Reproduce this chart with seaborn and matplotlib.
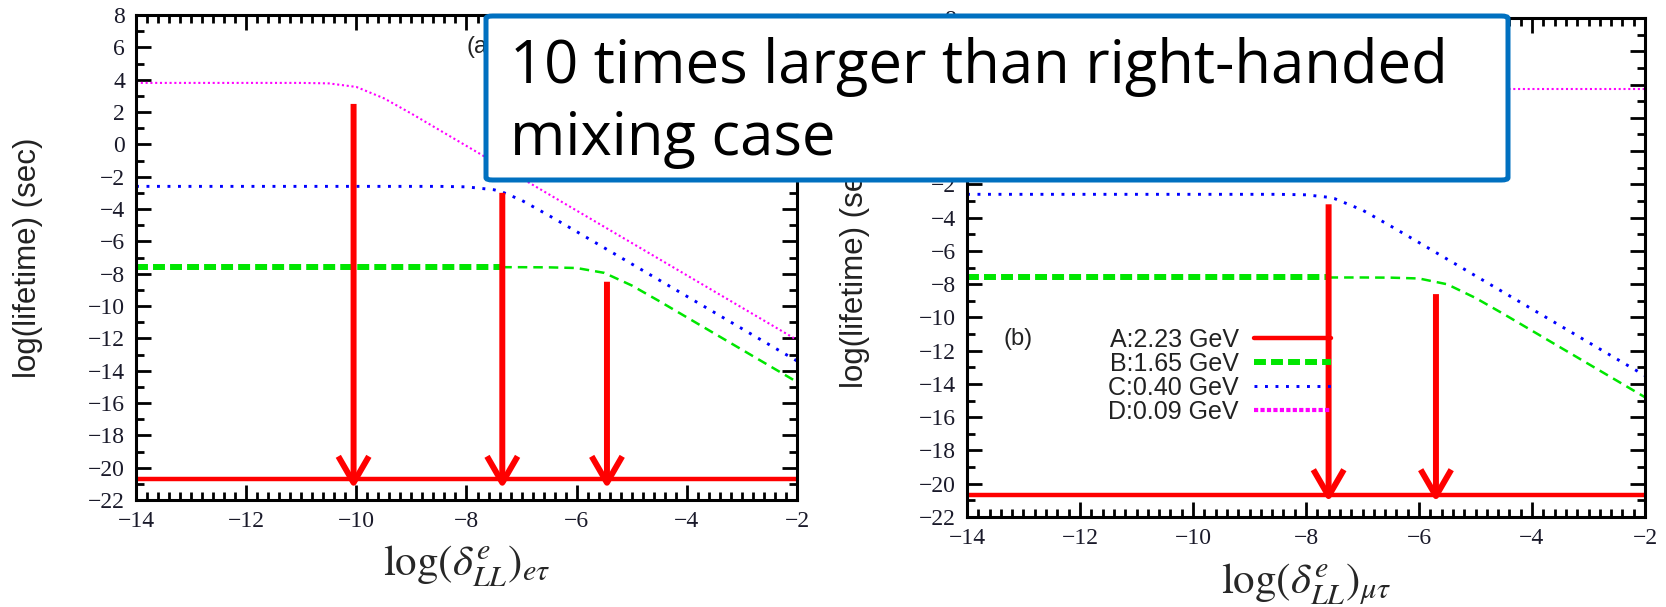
import numpy as np
import matplotlib
matplotlib.use("Agg")
import matplotlib.pyplot as plt
from matplotlib.ticker import MultipleLocator
from matplotlib.lines import Line2D
from matplotlib.patches import FancyBboxPatch
import seaborn as sns

# ---------------- data ----------------
# panel (a): log(delta_LL)_{e tau}
x_a = [-14, -13, -12, -11, -10.5, -10, -9.5, -9, -8.5, -8, -7.5, -7.35, -7,
       -6.5, -6, -5.5, -5, -4.5, -4, -3.5, -3, -2.5, -2]
A_a = [-20.7] * len(x_a)
B_a = [-7.60, -7.60, -7.60, -7.60, -7.60, -7.60, -7.60, -7.60, -7.60, -7.60, -7.60, -7.60, -7.60,
       -7.61, -7.65, -7.95, -8.73, -9.70, -10.70, -11.70, -12.70, -13.70, -14.70]
C_a = [-2.60, -2.60, -2.60, -2.60, -2.60, -2.60, -2.60, -2.60, -2.60, -2.63, -2.81, -2.95, -3.46,
       -4.41, -5.40, -6.40, -7.40, -8.40, -9.40, -10.40, -11.40, -12.40, -13.40]
D_a = [3.80, 3.80, 3.80, 3.80, 3.77, 3.55, 2.85, 1.90, 0.90, -0.10, -1.10, -1.40, -2.10,
       -3.10, -4.10, -5.10, -6.10, -7.10, -8.10, -9.10, -10.10, -11.10, -12.10]
arrows_x_a = [-10.05, -7.35, -5.45]
arrows_top_a = [2.5, -3.0, -8.5]
arrow_tip_a = -21.3

# panel (b): log(delta_LL)_{mu tau}
x_b = [-14, -13, -12, -11, -10, -9, -8.5, -8, -7.6, -7.5, -7, -6.5, -6, -5.5, -5,
       -4.5, -4, -3.5, -3, -2.5, -2]
A_b = [-20.7] * len(x_b)
B_b = [-7.60, -7.60, -7.60, -7.60, -7.60, -7.60, -7.60, -7.60, -7.60, -7.60, -7.60, -7.61, -7.66,
       -8.01, -8.83, -9.80, -10.80, -11.80, -12.80, -13.80, -14.80]
C_b = [-2.60, -2.60, -2.60, -2.60, -2.60, -2.60, -2.60, -2.63, -2.78, -2.85, -3.55, -4.51, -5.50,
       -6.50, -7.50, -8.50, -9.50, -10.50, -11.50, -12.50, -13.50]
D_b = [3.75] * len(x_b)
arrows_x_b = [-7.6, -5.7]
arrows_top_b = [-3.2, -8.6]
arrow_tip_b = -21.1

series_labels = ["A:2.23 GeV", "B:1.65 GeV", "C:0.40 GeV", "D:0.09 GeV"]
x_ticks = [-14, -12, -10, -8, -6, -4, -2]
y_ticks = list(range(-22, 9, 2))
xlabels = [r"$\log(\delta^{e}_{LL})_{e\tau}$", r"$\log(\delta^{e}_{LL})_{\mu\tau}$"]
ylabel = "log(lifetime) (sec)"
note_lines = ["10 times larger than right-handed", "mixing case"]

# ---------------- style ----------------
RED, GREEN, BLUE, MAGENTA = "#ff0000", "#00e600", "#0000ff", "#ff00ff"
BOX_BLUE = "#0070c0"
SANS = ["Liberation Sans", "DejaVu Sans"]
SERIF = ["Liberation Serif", "DejaVu Serif"]
TICK_FS = 17

sns.set_theme(style="ticks")
plt.rcParams["font.family"] = SERIF
plt.rcParams["mathtext.fontset"] = "stix"
plt.rcParams["axes.linewidth"] = 2.2
plt.rcParams["xtick.labelsize"] = TICK_FS
plt.rcParams["ytick.labelsize"] = TICK_FS

fig = plt.figure(figsize=(16.66, 6.07), dpi=100)
W, H = 1666, 607
ax_a = fig.add_axes([136 / W, (H - 500) / H, 661 / W, 485 / H])
ax_b = fig.add_axes([967 / W, (H - 517) / H, 678 / W, 499 / H])

sty_B_thick = dict(color=GREEN, lw=4.3, linestyle=(0, (2.0, 0.85)), dash_capstyle="butt")
sty_B_thin = dict(color=GREEN, lw=1.8, linestyle=(0, (3.8, 2.4)), dash_capstyle="butt")
sty_C = dict(color=BLUE, lw=2.1, linestyle=(0, (1, 2.6)), dash_capstyle="butt")
sty_D = dict(color=MAGENTA, lw=1.5, linestyle=(0, (1, 1.3)), dash_capstyle="butt")
sty_A = dict(color=RED, lw=3.2, linestyle="-")


def draw_panel(ax, x, a, b, c, d, split, ax_x, ax_top, tip):
    x = np.asarray(x, dtype=float)
    b = np.asarray(b, dtype=float)
    left = x <= split
    right = x >= split
    sns.lineplot(x=x, y=d, ax=ax, sort=False, errorbar=None, **sty_D)
    sns.lineplot(x=x, y=c, ax=ax, sort=False, errorbar=None, **sty_C)
    sns.lineplot(x=x[left], y=b[left], ax=ax, sort=False, errorbar=None, **sty_B_thick)
    sns.lineplot(x=x[right], y=b[right], ax=ax, sort=False, errorbar=None, **sty_B_thin)
    sns.lineplot(x=x, y=a, ax=ax, sort=False, errorbar=None, **sty_A)
    for xa, ya in zip(ax_x, ax_top):
        ax.annotate("", xy=(xa, tip), xytext=(xa, ya),
                    arrowprops=dict(arrowstyle="->,head_length=0.95,head_width=0.55",
                                    lw=4.3, color=RED, shrinkA=0, shrinkB=0,
                                    mutation_scale=20, capstyle="butt"),
                    zorder=5)
    ax.set_xlim(-14, -2)
    ax.set_ylim(-22, 8)
    ax.set_xticks(x_ticks)
    ax.set_yticks(y_ticks)
    ax.xaxis.set_minor_locator(MultipleLocator(0.2))
    ax.yaxis.set_minor_locator(MultipleLocator(1))
    ax.tick_params(which="both", direction="in", top=True, right=True, colors="black", width=2)
    ax.tick_params(which="major", length=11, pad=8)
    ax.tick_params(which="minor", length=5.5)
    for lbl in ax.get_xticklabels() + ax.get_yticklabels():
        lbl.set_fontsize(TICK_FS)
        lbl.set_family(SERIF)
        lbl.set_color("#1a1a2a")
    for s in ax.spines.values():
        s.set_color("black")
        s.set_linewidth(2.2)
    ax.set_ylabel(ylabel, family=SANS, fontsize=22.5, color="#222222")
    ax.grid(False)


draw_panel(ax_a, x_a, A_a, B_a, C_a, D_a, -7.35, arrows_x_a, arrows_top_a, arrow_tip_a)
draw_panel(ax_b, x_b, A_b, B_b, C_b, D_b, -7.6, arrows_x_b, arrows_top_b, arrow_tip_b)

for ax, lab, axh in ((ax_a, xlabels[0], 485), (ax_b, xlabels[1], 499)):
    ax.set_xlabel(lab, fontsize=31, va="baseline")
    ax.xaxis.set_label_coords(0.5, -76 / axh)
ax_a.yaxis.set_label_coords(-93 / 661, 0.5)
ax_b.yaxis.set_label_coords(-97 / 678, 0.5)

ax_a.text(-8.0, 6.0, "(a)", family=SANS, fontsize=17, va="center", ha="left", color="#222222")
ax_b.text(-13.35, -11.3, "(b)", family=SANS, fontsize=17, va="center", ha="left", color="#222222")

# legend of panel (b)
handles = [
    Line2D([], [], color=RED, lw=3.2),
    Line2D([], [], color=GREEN, lw=4.3, linestyle=(0, (2.0, 0.85)), dash_capstyle="butt"),
    Line2D([], [], color=BLUE, lw=2.1, linestyle=(0, (1, 2.6)), dash_capstyle="butt"),
    Line2D([], [], color=MAGENTA, lw=3.0, linestyle=(0, (1, 0.55)), dash_capstyle="butt"),
]
leg = ax_b.legend(handles, series_labels, loc="upper right",
                  bbox_to_anchor=((1331 - 967) / 678, (517 - 328) / 499),
                  frameon=False, markerfirst=False, handlelength=3.1, handletextpad=0.6,
                  labelspacing=0.0, borderpad=0, borderaxespad=0,
                  prop={"family": SANS, "size": 18})
for t in leg.get_texts():
    t.set_color("#222222")

# callout box over the top of both panels
box = FancyBboxPatch((486 / W, (H - 180) / H), (1508 - 486) / W, (180 - 16) / H,
                     boxstyle="round,pad=0,rounding_size=0.004",
                     transform=fig.transFigure, facecolor="white", edgecolor=BOX_BLUE,
                     linewidth=3.6, zorder=10)
fig.patches.append(box)
for line, yb in zip(note_lines, (83, 155)):
    fig.text(510 / W, (H - yb) / H, line, family=["Open Sans", "DejaVu Sans"],
             fontsize=43, va="baseline", ha="left", color="black", zorder=11)

fig.savefig("out.png", dpi=100, facecolor="white")
